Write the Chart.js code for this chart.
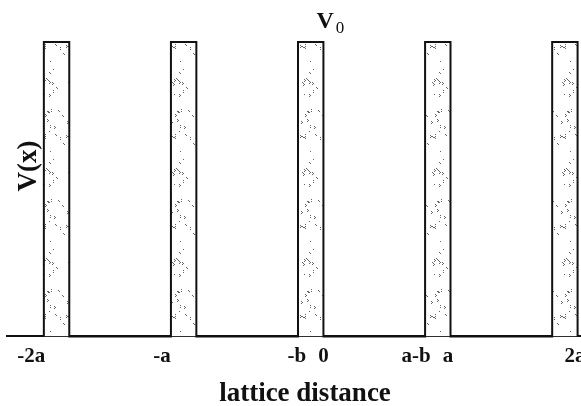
<!DOCTYPE html>
<html>
<head>
<meta charset="utf-8">
<script src="https://cdn.jsdelivr.net/npm/chart.js@4.4.1/dist/chart.umd.min.js"></script>
<style>
  html, body { margin: 0; padding: 0; background: #fff; overflow: hidden; }
  #wrap { width: 610px; height: 410px; }
</style>
</head>
<body>
<div id="wrap"><canvas id="c" width="610" height="410"></canvas></div>
<script>
// Kronig-Penney potential: barriers of height V0, width b, repeated every a.
// The reference is cropped on the right, so the canvas is a bit bigger
// than the window and the "2a" label gets cut like in the scan.

const a  = 1;
const b  = 0.2;
const V0 = 1;
const cells = [-2, -1, 0, 1, 2];            // barrier n spans [n*a - b, n*a]

const tickLabels = ["-2a", "-a", "-b", "0", "a-b", "a", "2a"];
const tickAt     = [-2.30, -1.27, -0.21, 0.0, 0.73, 0.98, 1.98];

const xMin = -2.49;
const xMax = 2.2;

const ink   = "#111";
const serif = '"Liberation Serif", "Times New Roman", serif';

// V(x) as one step line: 0 between barriers, V0 on top of them
const potential = [];
for (const n of cells) {
  potential.push({ x: n * a - b, y: 0 });
  potential.push({ x: n * a - b, y: V0 });
  potential.push({ x: n * a,     y: V0 });
  potential.push({ x: n * a,     y: 0 });
}

// speckled fill, like the scanned stipple inside the barriers
function speckle() {
  const c = document.createElement("canvas");
  c.width = 26; c.height = 90;
  const g = c.getContext("2d");
  g.fillStyle = "#fff";
  g.fillRect(0, 0, c.width, c.height);
  let s = 7;
  const rnd = () => { s = (s * 16807) % 2147483647; return s / 2147483647; };
  g.fillStyle = "#666";
  for (let i = 0; i < 34; i++) {
    const px = Math.floor(rnd() * c.width);
    const py = Math.floor(rnd() * c.height);
    g.fillRect(px, py, 1, 1);
    if (rnd() < 0.6) g.fillRect(px + 1, py + 1, 1, 1);
    if (rnd() < 0.4) g.fillRect(px, py + 2, 1, 1);
  }
  return g.createPattern(c, "repeat");
}

const annotations = {
  id: "annotations",
  afterDraw(chart) {
    const { ctx, scales: { x } } = chart;
    const x0 = x.getPixelForValue(0);
    ctx.save();
    ctx.fillStyle = ink;
    ctx.textBaseline = "alphabetic";
    // V0 over the middle barrier
    ctx.textAlign = "left";
    ctx.font = "bold 24px " + serif;
    ctx.fillText("V", x0 - 7, 28);
    const w = ctx.measureText("V").width;
    ctx.font = "17px " + serif;
    ctx.fillText("0", x0 - 7 + w + 2, 33);
    // rotated y label
    ctx.translate(29, 166);
    ctx.rotate(-Math.PI / 2);
    ctx.textAlign = "center";
    ctx.textBaseline = "middle";
    ctx.font = "bold 27px " + serif;
    ctx.fillText("V(x)", 0, 0);
    ctx.restore();
  },
};

new Chart(document.getElementById("c"), {
  type: "scatter",
  data: {
    datasets: [{
      data: potential,
      showLine: true,
      fill: "origin",
      backgroundColor: speckle(),
      borderColor: ink,
      borderWidth: 2,
      borderJoinStyle: "miter",
      tension: 0,
      pointRadius: 0,
      clip: false,
    }],
  },
  options: {
    responsive: false,
    animation: false,
    layout: { padding: { top: 42, left: 7, right: 7, bottom: 0 } },
    plugins: {
      legend: { display: false },
      tooltip: { enabled: false },
    },
    scales: {
      x: {
        type: "linear",
        min: xMin,
        max: xMax,
        offset: false,
        afterBuildTicks: (s) => { s.ticks = tickAt.map((v) => ({ value: v })); },
        ticks: {
          autoSkip: false,
          maxRotation: 0,
          padding: 8,
          color: ink,
          font: { family: serif, size: 21, weight: "bold" },
          callback: (_v, i) => tickLabels[i],
        },
        grid: { display: false, drawTicks: false },
        border: { display: true, color: ink, width: 2 },
        title: {
          display: true,
          text: "lattice distance",
          color: ink,
          font: { family: serif, size: 27, weight: "bold" },
          padding: { top: 0, bottom: 0 },
        },
      },
      y: { min: 0, max: V0, display: false },
    },
  },
  plugins: [annotations],
});
</script>
</body>
</html>
